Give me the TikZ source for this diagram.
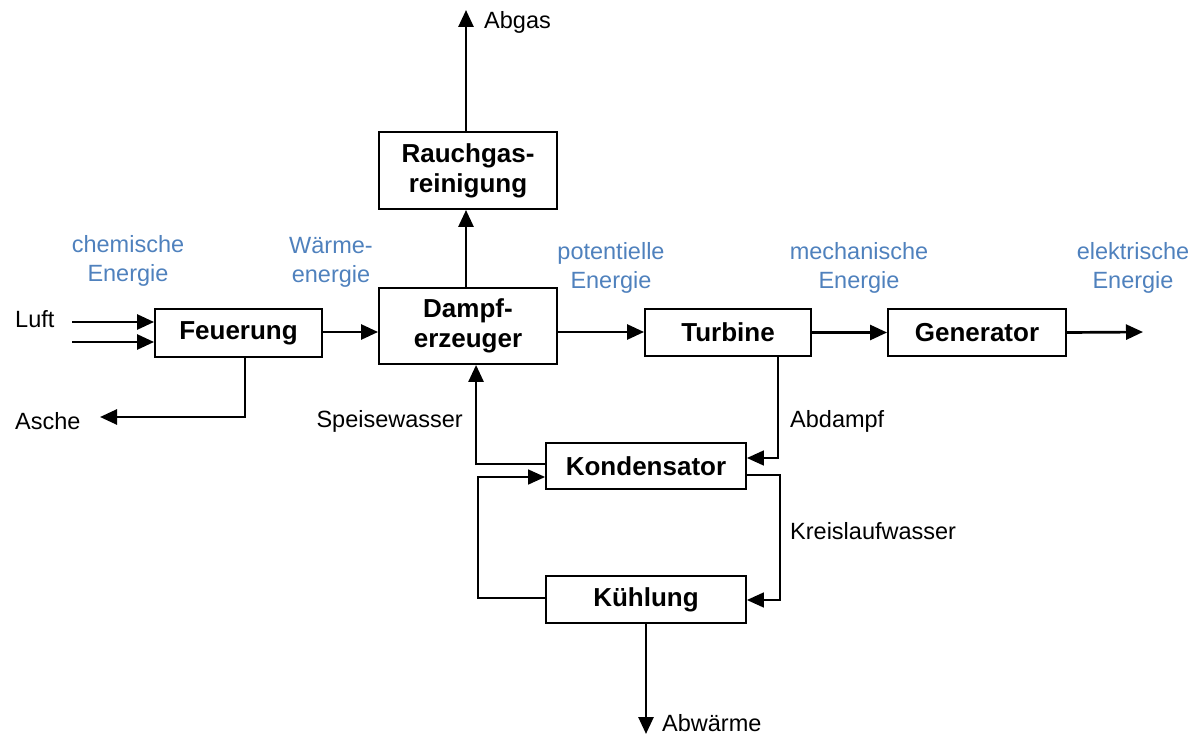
\documentclass[tikz,border=0pt]{standalone}
\usepackage{fontspec}
\setmainfont{Liberation Sans}
\usetikzlibrary{arrows.meta,calc}
\definecolor{energyblue}{HTML}{4F81BD}
\begin{document}
\begin{tikzpicture}[x=1pt,y=-1pt,
  block/.style={draw, line width=1.9pt, fill=white, minimum width=#1, inner sep=0pt,
    font=\fontsize{26}{30}\selectfont\bfseries, align=center},
  flow/.style={line width=2.7pt, -{Triangle[length=17pt,width=15pt]}},
  thinflow/.style={line width=1.7pt, -{Triangle[length=17pt,width=15pt]}},
  lbl/.style={font=\fontsize{23.5}{29}\selectfont, inner sep=0pt},
  energy/.style={font=\fontsize{23.5}{29}\selectfont, text=energyblue, align=center, inner sep=0pt}]
\useasboundingbox (0,0) rectangle (1202,735);

% process blocks
\node[block=167pt, minimum height=48pt] (feu)   at (238.5,333) {Feuerung};
\node[block=178pt, minimum height=76pt] (dampf) at (468,326)   {Dampf-\\erzeuger};
\node[block=178pt, minimum height=77pt] (rauch) at (468,170.5) {Rauchgas-\\reinigung};
\node[block=166pt, minimum height=47pt] (turb)  at (728,332.5) {Turbine};
\node[block=178pt, minimum height=47pt] (gen)   at (977,332.5) {Generator};
\node[block=200pt, minimum height=46pt] (kond)  at (646,466)   {Kondensator};
\node[block=200pt, minimum height=47pt] (kuehl) at (646,599.5) {Kühlung};

% free ends of the flows
\coordinate (luft1) at (72,322);
\coordinate (luft2) at (72,342);
\coordinate (asche) at (100,417);
\coordinate (abgas) at (466,10);
\coordinate (strom) at (1143,332);
\coordinate (abw)   at (646,734);

% black labels
\node[lbl, anchor=west] (tluft)  at (15,319)  {Luft};
\node[lbl, anchor=west] (tasche) at (15,421)  {Asche};
\node[lbl, anchor=east] (tspeis) at (463,421) {Speisewasser};
\node[lbl, anchor=west] (tabd)   at (790,421) {Abdampf};
\node[lbl, anchor=west] (tkreis) at (790,531) {Kreislaufwasser};
\node[lbl, anchor=west] (tabgas) at (484,22)  {Abgas};
\node[lbl, anchor=west] (tabw)   at (662,723) {Abwärme};

% energy forms
\node[energy] (e1) at (128,261)  {chemische\\Energie};
\node[energy] (e2) at (331,262)  {Wärme-\\energie};
\node[energy] (e3) at (611,268)  {potentielle\\Energie};
\node[energy] (e4) at (859,268)  {mechanische\\Energie};
\node[energy] (e5) at (1133,268) {elektrische\\Energie};

% main flows
\draw[flow] (luft1) -- (luft1 -| feu.west);
\draw[flow] (luft2) -- (luft2 -| feu.west);
\draw[flow] ($(feu.east)+(0,-1)$) -- ($(feu.east -| dampf.west)+(0,-1)$);
\draw[flow] ($(feu.south)+(6.5,0)$) |- (asche);
\draw[flow] ($(dampf.north)+(-2,0)$) -- ($(rauch.south)+(-2,0)$);
\draw[flow] ($(rauch.north)+(-2,0)$) -- (abgas);
\draw[flow] ($(dampf.east)+(0,6)$) -- ($(dampf.east -| turb.west)+(0,6)$);
\draw[flow] (turb.east) -- (turb.east -| gen.west);
\draw[flow] (gen.east) -- (strom);
\draw[flow] (kuehl.south) -- (abw);

% water circuits
\draw[thinflow] ($(turb.south)+(50,0)$) |- ($(kond.east)+(0,-8)$);
\draw[line width=1.7pt] ($(kond.west)+(0,-2)$) -- ++(-69,0) coordinate (sp);
\draw[flow] ($(sp)+(0,1)$) -- (sp |- dampf.south);
\draw[thinflow] ($(kond.east)+(0,9)$) -- ++(33,0) |- ($(kuehl.east)+(0,0.5)$);
\draw[thinflow] ($(kuehl.west)+(0,-1.5)$) -- ++(-67,0) |- ($(kond.west)+(0,11)$);
\end{tikzpicture}
\end{document}
